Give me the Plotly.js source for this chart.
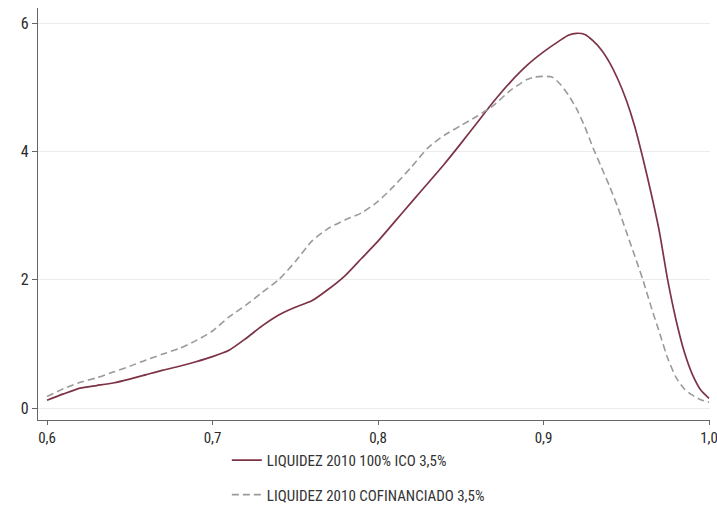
<!DOCTYPE html>
<html>
<head>
<meta charset="utf-8">
<script src="https://cdn.plot.ly/plotly-3.0.1.min.js"></script>
<style>html,body{margin:0;padding:0;background:#fff;}#chart{width:717px;height:529px;}</style>
</head>
<body>
<div id="chart"></div>
<script>
// Series 1: LIQUIDEZ 2010 100% ICO 3,5%
var icoX = [0.600,0.610,0.620,0.630,0.640,0.650,0.660,0.670,0.680,0.690,0.700,0.710,0.720,0.730,0.740,0.750,0.760,0.770,0.780,0.790,0.800,0.810,0.820,0.830,0.840,0.850,0.860,0.870,0.880,0.890,0.900,0.910,0.915,0.920,0.925,0.930,0.935,0.940,0.945,0.950,0.955,0.960,0.965,0.970,0.975,0.980,0.985,0.990,0.995,1.000];
var icoY = [0.12,0.22,0.31,0.35,0.39,0.45,0.52,0.59,0.65,0.72,0.80,0.90,1.08,1.28,1.45,1.57,1.67,1.85,2.06,2.33,2.60,2.90,3.20,3.50,3.80,4.12,4.45,4.78,5.08,5.34,5.55,5.73,5.81,5.84,5.82,5.72,5.58,5.38,5.12,4.80,4.40,3.90,3.35,2.75,2.00,1.38,0.88,0.52,0.28,0.15];
// Series 2: LIQUIDEZ 2010 COFINANCIADO 3,5%
var cofX = [0.600,0.610,0.620,0.630,0.640,0.650,0.660,0.670,0.680,0.690,0.700,0.710,0.720,0.730,0.740,0.750,0.760,0.770,0.780,0.790,0.800,0.810,0.820,0.830,0.840,0.850,0.860,0.870,0.880,0.890,0.895,0.905,0.910,0.915,0.920,0.925,0.930,0.935,0.940,0.945,0.950,0.955,0.960,0.965,0.970,0.975,0.980,0.985,0.990,0.995,1.000];
var cofY = [0.18,0.30,0.40,0.47,0.56,0.65,0.75,0.84,0.93,1.05,1.20,1.42,1.60,1.80,2.00,2.28,2.60,2.80,2.93,3.04,3.22,3.47,3.75,4.05,4.25,4.40,4.55,4.72,4.95,5.12,5.16,5.16,5.05,4.88,4.66,4.38,4.05,3.75,3.45,3.12,2.75,2.38,2.00,1.58,1.18,0.78,0.48,0.30,0.20,0.13,0.09];
var seriesNames = ["LIQUIDEZ 2010 100% ICO 3,5%", "LIQUIDEZ 2010 COFINANCIADO 3,5%"];
var xTicks = [0.6,0.7,0.8,0.9,1.0];
var xTickText = ["0,6","0,7","0,8","0,9","1,0"];
var yTicks = [0,2,4,6];
var yTickText = ["0","2","4","6"];

// pick the narrowest installed font resembling Arial Narrow
function hasFont(name) {
  var c = document.createElement('canvas').getContext('2d');
  var s = 'LIQUIDEZ 2010 COFINANCIADO 3,5% abcdefghijklm';
  var bases = ['monospace', 'serif'];
  for (var i = 0; i < bases.length; i++) {
    c.font = '40px ' + bases[i];
    var w0 = c.measureText(s).width;
    c.font = '40px "' + name + '", ' + bases[i];
    if (c.measureText(s).width !== w0) return true;
  }
  return false;
}
var candidates = ['Liberation Sans Narrow', 'Arial Narrow', 'Roboto Condensed', 'Open Sans Condensed', 'DejaVu Sans Condensed', 'Liberation Sans'];
var FONT = 'sans-serif';
for (var i = 0; i < candidates.length; i++) { if (hasFont(candidates[i])) { FONT = '"' + candidates[i] + '", sans-serif'; break; } }

var traces = [
  {x: icoX, y: icoY, type: 'scatter', mode: 'lines', name: seriesNames[0], legendgroup: 'a',
   line: {color: '#7d3346', width: 1.7, shape: 'spline', smoothing: 0.6}},
  {x: cofX, y: cofY, type: 'scatter', mode: 'lines', name: seriesNames[1], legendgroup: 'b',
   line: {color: '#9a9a9a', width: 1.6, dash: '7px,4px', shape: 'spline', smoothing: 0.6}}
];

var layout = {
  width: 717, height: 529,
  margin: {l: 38, r: 7, t: 8, b: 109},
  paper_bgcolor: '#fff', plot_bgcolor: '#fff',
  font: {family: FONT, size: 15, color: '#333'},
  showlegend: true,
  xaxis: {
    range: [0.59456, 1.0006], tickvals: xTicks, ticktext: xTickText, ticklabeloverflow: 'allow',
    showgrid: false, zeroline: false, showline: true, linecolor: '#666', linewidth: 1.2,
    ticks: 'outside', ticklen: 4, tickcolor: '#666', tickfont: {family: FONT, size: 15, color: '#2a2a2a'}
  },
  yaxis: {
    range: [-0.187, 6.234], tickvals: yTicks, ticktext: yTickText,
    showgrid: true, gridcolor: '#ececec', gridwidth: 1, zeroline: false,
    showline: true, linecolor: '#666', linewidth: 1.2,
    ticks: 'outside', ticklen: 5, tickcolor: '#666', tickfont: {family: FONT, size: 16, color: '#2a2a2a'}
  },
  legend: {
    x: 0.281, y: -0.058, xanchor: 'left', yanchor: 'top',
    orientation: 'v', traceorder: 'grouped', tracegroupgap: 12,
    font: {family: FONT, size: 15, color: '#333'}, bgcolor: 'rgba(0,0,0,0)'
  }
};

Plotly.newPlot('chart', traces, layout, {displayModeBar: false, staticPlot: true});
</script>
</body>
</html>
